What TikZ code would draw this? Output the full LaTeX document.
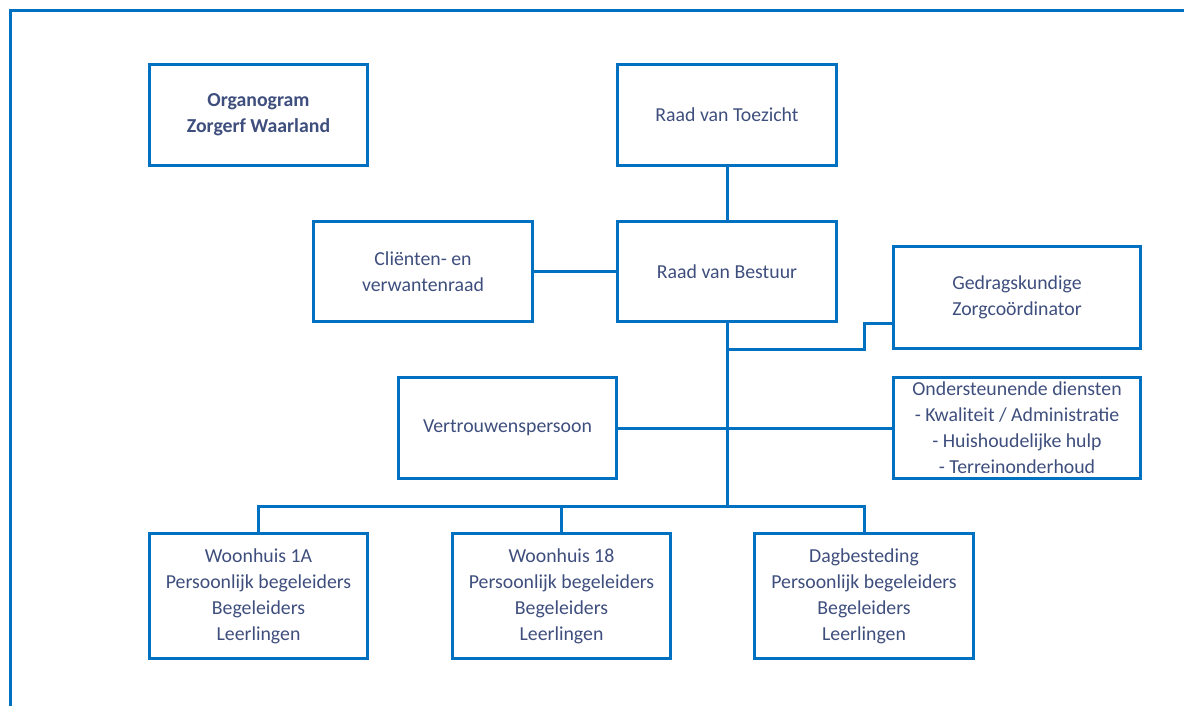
\documentclass[tikz,border=0pt]{standalone}
\usepackage{fontspec}
\setmainfont{Carlito}
\definecolor{lineblue}{RGB}{0,112,192}
\definecolor{txt}{RGB}{62,78,125}
\begin{document}
\begin{tikzpicture}[x=1pt,y=-1pt,
  box/.style={draw=lineblue, line width=3pt, text=txt, align=center, inner sep=0pt,
              font=\fontsize{19.8}{26}\selectfont},
  conn/.style={draw=lineblue, line width=3pt}]
\useasboundingbox (0,0) rectangle (1184,706);
% outer frame (partly cut off)
\coordinate (fbl) at (10.5,706);
\coordinate (ftl) at (10.5,10.5);
\coordinate (ftr) at (1184,10.5);
\draw[conn] (fbl) -- (ftl) -- (ftr);

\node[box, minimum width=218pt, minimum height=101pt] (org) at (258.5,115) {\textbf{Organogram}\\\textbf{Zorgerf Waarland}};
\node[box, minimum width=219pt, minimum height=101pt] (rvt) at (727,115) {Raad van Toezicht};
\node[box, minimum width=219pt, minimum height=100pt] (cli) at (423,271.5) {Cliënten- en\\verwantenraad};
\node[box, minimum width=219pt, minimum height=100pt] (rvb) at (727,271.5) {Raad van Bestuur};
\node[box, minimum width=247pt, minimum height=102pt] (ged) at (1017,297.5) {Gedragskundige\\Zorgcoördinator};
\node[box, minimum width=218pt, minimum height=101pt] (ver) at (507.5,428) {Vertrouwenspersoon};
\node[box, minimum width=247pt, minimum height=101pt] (ond) at (1017,428) {Ondersteunende diensten\\- Kwaliteit / Administratie\\- Huishoudelijke hulp\\- Terreinonderhoud};
\node[box, minimum width=218pt, minimum height=125pt] (w1) at (258.5,596) {Woonhuis 1A\\Persoonlijk begeleiders\\Begeleiders\\Leerlingen};
\node[box, minimum width=218pt, minimum height=125pt] (w18) at (561.5,596) {Woonhuis 18\\Persoonlijk begeleiders\\Begeleiders\\Leerlingen};
\node[box, minimum width=219pt, minimum height=125pt] (dag) at (864,596) {Dagbesteding\\Persoonlijk begeleiders\\Begeleiders\\Leerlingen};

\coordinate (bus) at (727,506);
\coordinate (gj) at (727,349);
\coordinate (gs) at (864,323);

\draw[conn] (rvt.south) -- (rvb.north);
\draw[conn] (cli.east) -- (rvb.west);
\draw[conn] (rvb.south) -- (bus);
\draw[conn] (gj) -| (gs) -- (gs -| ged.west);
\draw[conn] (ver.east) -- (ond.west);
\draw[conn] (w1.north) |- (bus) -| (dag.north);
\draw[conn] (w18.north) -- (w18.north |- bus);
\end{tikzpicture}
\end{document}
